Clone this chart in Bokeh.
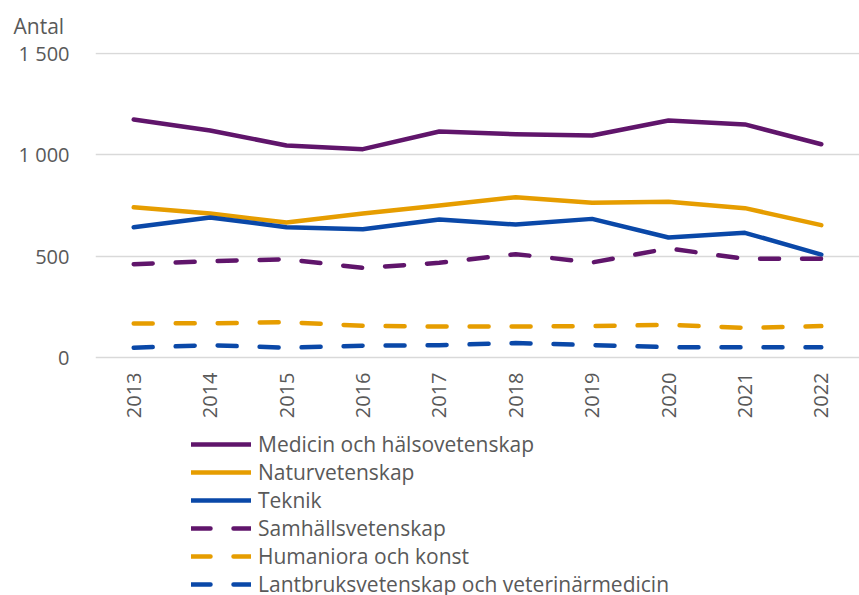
from bokeh.plotting import figure
from bokeh.models import Range1d, FixedTicker, Legend, LegendItem, ColumnDataSource
from bokeh.core.properties import value
from bokeh.embed import file_html
from bokeh.resources import INLINE
import math

years = [2013, 2014, 2015, 2016, 2017, 2018, 2019, 2020, 2021, 2022]
medicin = [1174, 1120, 1046, 1028, 1115, 1102, 1095, 1169, 1150, 1052]
naturvet = [741, 710, 666, 711, 750, 791, 763, 768, 737, 653]
teknik = [643, 691, 643, 633, 681, 656, 684, 592, 615, 508]
samhall = [460, 475, 485, 442, 467, 510, 469, 538, 487, 487]
humaniora = [168, 169, 174, 156, 153, 153, 155, 161, 146, 155]
lantbruk = [48, 61, 48, 58, 61, 71, 61, 51, 51, 51]

series_names = ["Medicin och hälsovetenskap", "Naturvetenskap", "Teknik",
                "Samhällsvetenskap", "Humaniora och konst",
                "Lantbruksvetenskap och veterinärmedicin"]
y_ticks = [0, 500, 1000, 1500]
y_tick_labels = ["0", "500", "1 000", "1 500"]
x_tick_labels = [str(y) for y in years]
y_title = "Antal"

PURPLE = "#60156b"
ORANGE = "#e69d00"
BLUE = "#0a48a8"
TXT = "#595959"
FONT = "Open Sans"

# layout: 304 px for 0..1500 ; frame extends down to hold year labels + legend
FRAME_H = 543
UNITS_PER_PX = 1500 / 304.0
y_end = 1500 + UNITS_PER_PX
y_start = y_end - FRAME_H * UNITS_PER_PX

p = figure(width=859, height=595, output_backend="svg", toolbar_location=None,
           x_range=Range1d(2012.5, 2022.5), y_range=Range1d(y_start, y_end),
           min_border_left=95, min_border_right=0, min_border_top=52,
           min_border_bottom=0, title=y_title)
p.outline_line_color = None
p.background_fill_color = "white"
p.border_fill_color = "white"

p.title.text_font = FONT
p.title.text_font_size = "21px"
p.title.text_font_style = "normal"
p.title.text_color = TXT
p.title.align = "left"
p.title.vertical_align = "top"
p.title.offset = -82
p.title.standoff = 22

p.xgrid.grid_line_color = None
p.ygrid.grid_line_color = "#d9d9d9"
p.ygrid.grid_line_width = 1.5
p.yaxis.ticker = FixedTicker(ticks=y_ticks)
p.ygrid.ticker = FixedTicker(ticks=y_ticks)
p.yaxis.major_label_overrides = {t: l for t, l in zip(y_ticks, y_tick_labels)}
p.xaxis.visible = False

ax = p.yaxis[0]
ax.axis_line_color = None
ax.major_tick_line_color = None
ax.minor_tick_line_color = None
ax.major_label_text_font = FONT
ax.major_label_text_font_size = "20px"
ax.major_label_text_color = TXT
ax.major_label_standoff = 20

# year labels (category axis), drawn under the zero line
src = ColumnDataSource(dict(x=years, y=[0] * len(years), t=x_tick_labels))
p.text(x="x", y="y", text="t", source=src, angle=math.pi / 2,
       text_align="right", text_baseline="middle", y_offset=15,
       text_font=value(FONT), text_font_size="20px", text_color=TXT)

data = [medicin, naturvet, teknik, samhall, humaniora, lantbruk]
colors = [PURPLE, ORANGE, BLUE, PURPLE, ORANGE, BLUE]
dashes = ["solid", "solid", "solid", "19 23", "19 23", "19 23"]

renderers = []
for vals, c, d in zip(data, colors, dashes):
    r = p.line(years, vals, line_color=c, line_width=4.5, line_dash=d,
               line_cap="round", line_join="round")
    renderers.append(r)

legend = Legend(items=[LegendItem(label=n, renderers=[r]) for n, r in zip(series_names, renderers)],
                location=(96, -3), orientation="vertical",
                glyph_width=60, glyph_height=20, label_height=20,
                label_standoff=7, spacing=0, padding=0, margin=0,
                border_line_alpha=0, background_fill_alpha=0,
                label_text_font=FONT, label_text_font_size="21px",
                label_text_color=TXT)
p.add_layout(legend, "center")

open("out.html", "w").write(file_html(p, INLINE))
